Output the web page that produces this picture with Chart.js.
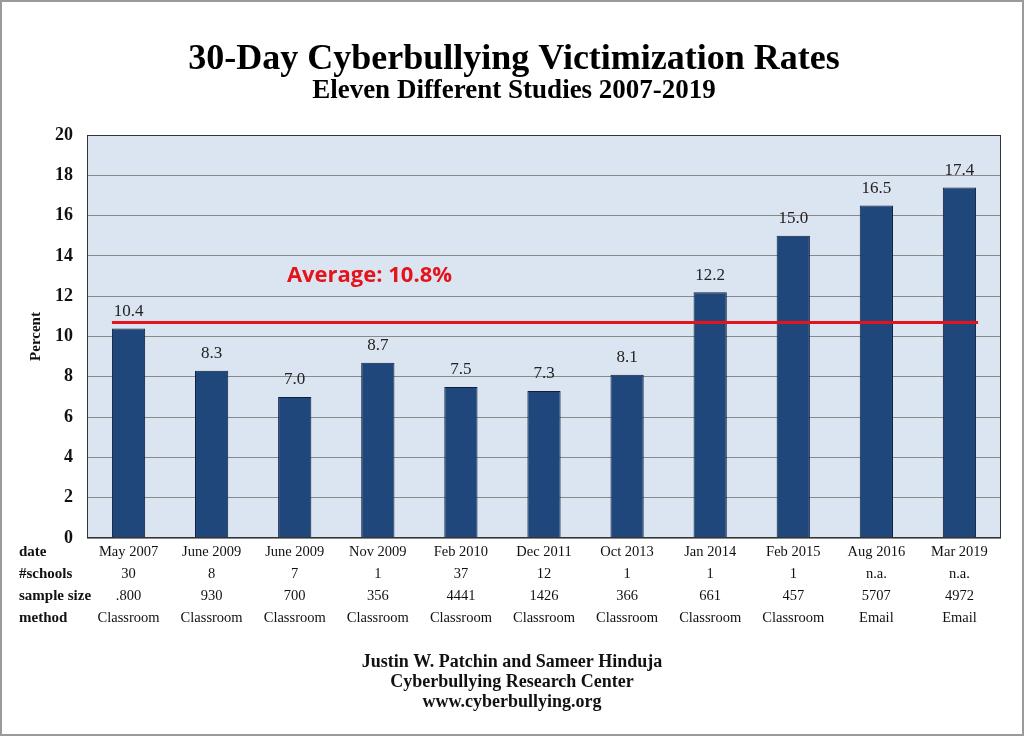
<!DOCTYPE html>
<html>
<head>
<meta charset="utf-8">
<script src="https://cdn.jsdelivr.net/npm/chart.js@4"></script>
<style>
  body { margin: 0; background: #fff; }
  #wrap { width: 1024px; height: 736px; position: relative; }
</style>
</head>
<body>
<div id="wrap"><canvas id="chart" width="1024" height="736"></canvas></div>
<script>
var dates = ['May 2007', 'June 2009', 'June 2009', 'Nov 2009', 'Feb 2010', 'Dec 2011', 'Oct 2013', 'Jan 2014', 'Feb 2015', 'Aug 2016', 'Mar 2019'];
var schools = ['30', '8', '7', '1', '37', '12', '1', '1', '1', 'n.a.', 'n.a.'];
var sampleSize = ['.800', '930', '700', '356', '4441', '1426', '366', '661', '457', '5707', '4972'];
var method = ['Classroom', 'Classroom', 'Classroom', 'Classroom', 'Classroom', 'Classroom', 'Classroom', 'Classroom', 'Classroom', 'Email', 'Email'];
var rates = [10.4, 8.3, 7.0, 8.7, 7.5, 7.3, 8.1, 12.2, 15.0, 16.5, 17.4];
var rowNames = ['date', '#schools', 'sample size', 'method'];
var averageValue = 10.7;
var averageText = 'Average: 10.8%';
var footerLines = ['Justin W. Patchin and Sameer Hinduja', 'Cyberbullying Research Center', 'www.cyberbullying.org'];

var serif = '"Liberation Serif", "DejaVu Serif", serif';

// x labels are multi line: one line per table row
var labels = dates.map(function(d, i) {
  return [d, schools[i], sampleSize[i], method[i]];
});

var extras = {
  id: 'extras',
  beforeDraw: function(chart) {
    var ctx = chart.ctx, a = chart.chartArea;
    ctx.save();
    ctx.fillStyle = '#fff';
    ctx.fillRect(0, 0, chart.width, chart.height);
    ctx.strokeStyle = '#9a9a9a';
    ctx.lineWidth = 2;
    ctx.strokeRect(1, 1, chart.width - 2, chart.height - 2);
    ctx.fillStyle = '#dbe5f1';
    ctx.fillRect(a.left, a.top, a.right - a.left, a.bottom - a.top);
    ctx.restore();
  },
  afterDatasetsDraw: function(chart) {
    var ctx = chart.ctx, a = chart.chartArea;
    var xs = chart.scales.x, ys = chart.scales.y;
    var bars = chart.getDatasetMeta(0).data;
    ctx.save();
    // frame
    ctx.strokeStyle = '#333';
    ctx.lineWidth = 1;
    ctx.strokeRect(a.left + 0.5, a.top + 0.5, a.right - a.left - 1, a.bottom - a.top - 1);

    // value labels
    ctx.fillStyle = '#222';
    ctx.font = '17px ' + serif;
    ctx.textAlign = 'center';
    ctx.textBaseline = 'middle';
    bars.forEach(function(bar, i) {
      ctx.fillText(rates[i].toFixed(1), bar.x, bar.y - 17);
    });

    // average line
    var first = bars[0], last = bars[bars.length - 1];
    var yAvg = ys.getPixelForValue(averageValue);
    ctx.strokeStyle = '#e3141c';
    ctx.lineWidth = 3;
    ctx.beginPath();
    ctx.moveTo(first.x - first.width / 2, yAvg);
    ctx.lineTo(last.x + last.width / 2 + 2, yAvg);
    ctx.stroke();

    ctx.fillStyle = '#e3141c';
    ctx.font = 'bold 22px "Open Sans", sans-serif';
    ctx.fillText(averageText, xs.getPixelForValue(2.9), ys.getPixelForValue(13));

    // table row names
    ctx.fillStyle = '#111';
    ctx.font = 'bold 15px ' + serif;
    ctx.textAlign = 'left';
    rowNames.forEach(function(name, i) {
      ctx.fillText(name, 19, a.bottom + 14 + i * 22);
    });

    // footer
    ctx.font = 'bold 18px ' + serif;
    ctx.textAlign = 'center';
    footerLines.forEach(function(line, i) {
      ctx.fillText(line, chart.width / 2, 662 + i * 20);
    });
    ctx.restore();
  }
};

new Chart(document.getElementById('chart'), {
  type: 'bar',
  data: {
    labels: labels,
    datasets: [{
      data: rates,
      backgroundColor: '#1f477b',
      borderColor: '#0d1f3a',
      borderWidth: 1,
      barPercentage: 0.4,
      categoryPercentage: 1.0
    }]
  },
  options: {
    responsive: false,
    animation: false,
    layout: { padding: { left: 27, right: 23, top: 0, bottom: 0 } },
    plugins: {
      legend: { display: false },
      tooltip: { enabled: false },
      title: {
        display: true,
        text: '30-Day Cyberbullying Victimization Rates',
        color: '#000',
        font: { family: serif, size: 36, weight: 'bold', lineHeight: 1.0 },
        padding: { top: 42, bottom: 0 }
      },
      subtitle: {
        display: true,
        text: 'Eleven Different Studies 2007-2019',
        color: '#000',
        font: { family: serif, size: 27, weight: 'bold', lineHeight: 1.0 },
        padding: { top: 0, bottom: 30 }
      }
    },
    scales: {
      x: {
        grid: { display: false, drawTicks: false },
        border: { display: false },
        ticks: {
          color: '#111',
          autoSkip: false,
          maxRotation: 0,
          padding: 3,
          font: { family: serif, size: 14.5, lineHeight: 1.52 }
        },
        afterFit: function(scale) { scale.height = 198; }
      },
      y: {
        min: 0,
        max: 20,
        ticks: {
          stepSize: 2,
          color: '#111',
          padding: 14,
          font: { family: serif, size: 18, weight: 'bold' }
        },
        grid: { color: '#8a8a8a', drawTicks: false },
        border: { display: false },
        title: {
          display: true,
          text: 'Percent',
          color: '#111',
          font: { family: serif, size: 15, weight: 'bold' },
          padding: { top: 0, bottom: 0 }
        },
        afterFit: function(scale) { scale.width = 60; }
      }
    }
  },
  plugins: [extras]
});
</script>
</body>
</html>
